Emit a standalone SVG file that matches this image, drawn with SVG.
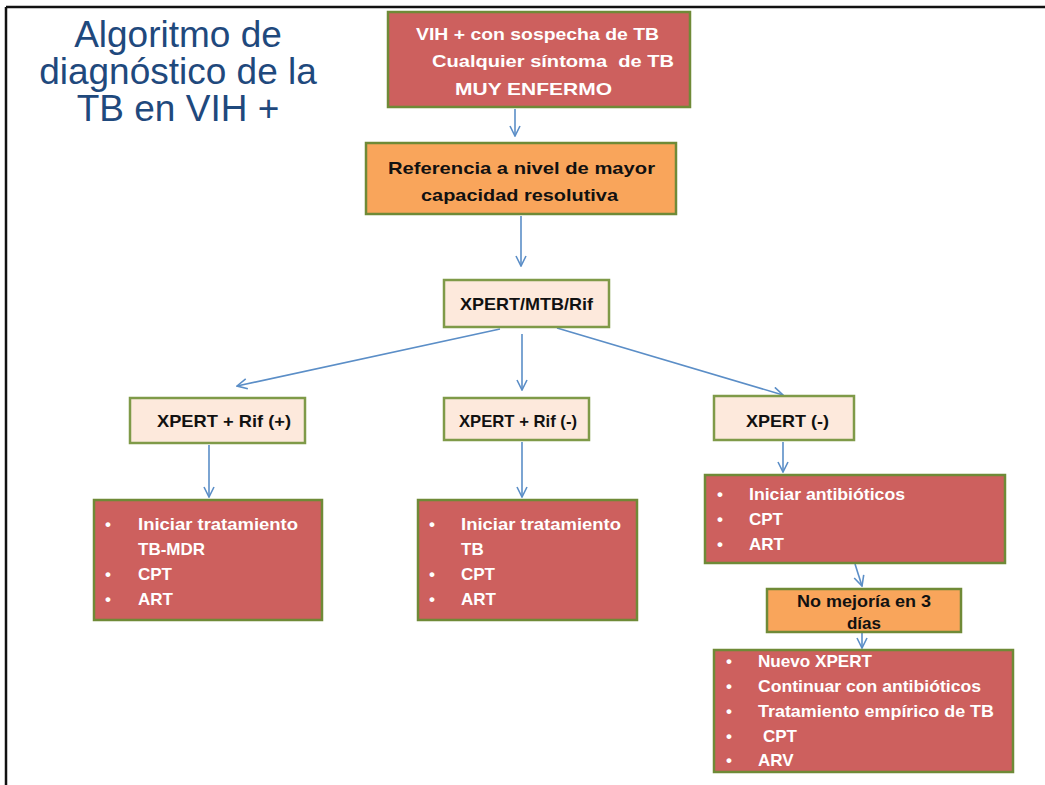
<svg xmlns="http://www.w3.org/2000/svg" width="1045" height="785" viewBox="0 0 1045 785">
<defs>
<style>
.red{fill:#cd605e;stroke:#6f8a37;stroke-width:2.5}
.org{fill:#f9a55b;stroke:#6f8a37;stroke-width:2.5}
.pch{fill:#fde9dc;stroke:#7f9a48;stroke-width:2.5}
.t{font-family:"Liberation Sans",Arial,sans-serif;font-weight:bold;font-size:17px}
.w{fill:#ffffff}
.k{fill:#111111}
.title{font-family:"Liberation Sans",Arial,sans-serif;font-size:37px;fill:#1f497d;text-anchor:middle}
.c{stroke:#5b8ec7;stroke-width:1.6;fill:none;marker-end:url(#ah)}
</style>
<marker id="ah" viewBox="0 0 12 12" refX="11" refY="6" markerWidth="12" markerHeight="12" markerUnits="userSpaceOnUse" orient="auto">
<path d="M1,1 L11,6 L1,11" fill="none" stroke="#5b8ec7" stroke-width="1.6"/>
</marker>
</defs>
<rect width="1045" height="785" fill="#ffffff"/>
<path d="M6,7 H1045 M6,7 V785" stroke="#111" stroke-width="2.5" fill="none"/>

<g id="title">
<text class="title" x="178" y="47">Algoritmo de</text>
<text class="title" x="178" y="84">diagnóstico de la</text>
<text class="title" x="178" y="121">TB en VIH +</text>
</g>

<g id="connectors">
<line class="c" x1="515" y1="109" x2="515" y2="136"/>
<line class="c" x1="521" y1="216" x2="521" y2="266"/>
<line class="c" x1="500" y1="329" x2="237" y2="386"/>
<line class="c" x1="522" y1="334" x2="522" y2="390"/>
<line class="c" x1="557" y1="328" x2="783" y2="395"/>
<line class="c" x1="209" y1="445" x2="209" y2="497"/>
<line class="c" x1="522" y1="442" x2="522" y2="497"/>
<line class="c" x1="783" y1="442" x2="783" y2="472"/>
<line class="c" x1="855" y1="564" x2="862" y2="586"/>
<line class="c" x1="862" y1="633" x2="862" y2="648"/>
</g>

<g id="n1">
<rect class="red" x="388" y="12" width="302" height="95"/>
<text class="t w" x="416" y="40" textLength="243" lengthAdjust="spacingAndGlyphs">VIH + con sospecha de TB</text>
<text class="t w" x="432" y="67" textLength="242" lengthAdjust="spacingAndGlyphs" xml:space="preserve">Cualquier síntoma  de TB</text>
<text class="t w" x="455" y="95" textLength="157" lengthAdjust="spacingAndGlyphs">MUY ENFERMO</text>
</g>

<g id="n2">
<rect class="org" x="366" y="143" width="310" height="71"/>
<text class="t k" x="388" y="174" textLength="267" lengthAdjust="spacingAndGlyphs">Referencia a nivel de mayor</text>
<text class="t k" x="421" y="201" textLength="197" lengthAdjust="spacingAndGlyphs">capacidad resolutiva</text>
</g>

<g id="n3">
<rect class="pch" x="444" y="280" width="165" height="47"/>
<text class="t k" x="460" y="310" textLength="133" lengthAdjust="spacingAndGlyphs">XPERT/MTB/Rif</text>
</g>

<g id="n4">
<rect class="pch" x="130" y="398" width="175" height="45"/>
<text class="t k" x="157" y="427" textLength="134" lengthAdjust="spacingAndGlyphs">XPERT + Rif (+)</text>
</g>

<g id="n5">
<rect class="pch" x="444" y="398" width="145" height="42"/>
<text class="t k" x="459" y="427" textLength="118" lengthAdjust="spacingAndGlyphs">XPERT + Rif (-)</text>
</g>

<g id="n6">
<rect class="pch" x="714" y="396" width="140" height="44"/>
<text class="t k" x="746" y="427" textLength="83" lengthAdjust="spacingAndGlyphs">XPERT (-)</text>
</g>

<g id="n7">
<rect class="red" x="94" y="500" width="228" height="120"/>
<text class="t w" x="105" y="530">•</text>
<text class="t w" x="138" y="530" textLength="160" lengthAdjust="spacingAndGlyphs">Iniciar tratamiento</text>
<text class="t w" x="138" y="555">TB-MDR</text>
<text class="t w" x="105" y="580">•</text>
<text class="t w" x="138" y="580">CPT</text>
<text class="t w" x="105" y="605">•</text>
<text class="t w" x="138" y="605">ART</text>
</g>

<g id="n8">
<rect class="red" x="418" y="500" width="219" height="120"/>
<text class="t w" x="429" y="530">•</text>
<text class="t w" x="461" y="530" textLength="160" lengthAdjust="spacingAndGlyphs">Iniciar tratamiento</text>
<text class="t w" x="461" y="555">TB</text>
<text class="t w" x="429" y="580">•</text>
<text class="t w" x="461" y="580">CPT</text>
<text class="t w" x="429" y="605">•</text>
<text class="t w" x="461" y="605">ART</text>
</g>

<g id="n9">
<rect class="red" x="705" y="475" width="300" height="88"/>
<text class="t w" x="717" y="500">•</text>
<text class="t w" x="749" y="500" textLength="156" lengthAdjust="spacingAndGlyphs">Iniciar antibióticos</text>
<text class="t w" x="717" y="525">•</text>
<text class="t w" x="749" y="525">CPT</text>
<text class="t w" x="717" y="550">•</text>
<text class="t w" x="749" y="550">ART</text>
</g>

<g id="n10">
<rect class="org" x="767" y="589" width="194" height="43"/>
<text class="t k" x="864" y="607" text-anchor="middle" textLength="134" lengthAdjust="spacingAndGlyphs">No mejoría en 3</text>
<text class="t k" x="864" y="629" text-anchor="middle">días</text>
</g>

<g id="n11">
<rect class="red" x="714" y="650" width="299" height="122"/>
<text class="t w" x="726" y="667">•</text>
<text class="t w" x="758" y="667" textLength="114" lengthAdjust="spacingAndGlyphs">Nuevo XPERT</text>
<text class="t w" x="726" y="692">•</text>
<text class="t w" x="758" y="692" textLength="223" lengthAdjust="spacingAndGlyphs">Continuar con antibióticos</text>
<text class="t w" x="726" y="717">•</text>
<text class="t w" x="758" y="717" textLength="236" lengthAdjust="spacingAndGlyphs">Tratamiento empírico de TB</text>
<text class="t w" x="726" y="742">•</text>
<text class="t w" x="763" y="742">CPT</text>
<text class="t w" x="726" y="766">•</text>
<text class="t w" x="758" y="766">ARV</text>
</g>
</svg>
